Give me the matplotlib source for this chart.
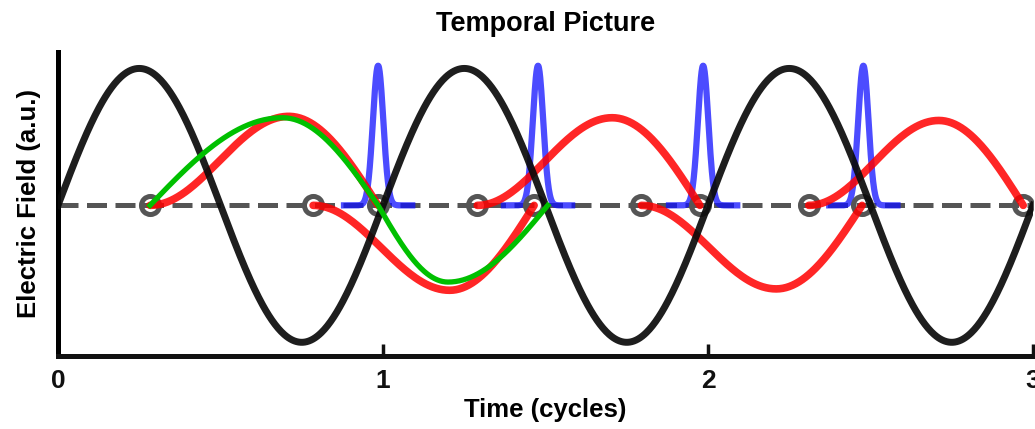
import numpy as np
import matplotlib
matplotlib.use('Agg')
import matplotlib.pyplot as plt

plt.rcParams['font.family'] = ['Liberation Sans', 'DejaVu Sans']
plt.rcParams['font.weight'] = 'bold'

# laser field: zeros and extrema (a.u.)
field_t = [0, 0.25, 0.5, 0.75, 1.0, 1.25, 1.5, 1.75, 2.0, 2.25, 2.5, 2.75, 3.0]
field_v = [0, 1, 0, -1, 0, 1, 0, -1, 0, 1, 0, -1, 0]

# electron trajectories: ionization, turning point, return
ion_t = [0.283, 0.785, 1.29, 1.795, 2.31]
turn_t = [0.71, 1.205, 1.705, 2.21, 2.71]
turn_v = [0.65, -0.62, 0.64, -0.61, 0.62]
ret_t = [0.985, 1.465, 1.975, 2.474, 2.97]

# green trajectory
green_t = [0.283, 0.69, 0.985, 1.2, 1.507]
green_v = [0, 0.64, 0, -0.56, 0]

# attosecond bursts
burst_t = [0.985, 1.477, 1.985, 2.478]
burst_h = 1.02
burst_sig = 0.016
burst_half = 0.105


def smooth(tk, yk, flat, n=80):
    # quarter/half cosine pieces between the read key points
    ts, ys = [], []
    for i in range(len(tk) - 1):
        s = np.linspace(0, 1, n)
        if flat[i] and flat[i + 1]:
            w = (1 - np.cos(np.pi * s)) / 2
        elif flat[i]:
            w = 1 - np.cos(np.pi * s / 2)
        elif flat[i + 1]:
            w = np.sin(np.pi * s / 2)
        else:
            w = s
        ts.append(tk[i] + (tk[i + 1] - tk[i]) * s)
        ys.append(yk[i] + (yk[i + 1] - yk[i]) * w)
    return np.concatenate(ts), np.concatenate(ys)


fig = plt.figure(figsize=(10.35, 4.29), dpi=100)
ax = fig.add_axes([58 / 1035, 1 - 356 / 429, (1033 - 58) / 1035, (356 - 52) / 429])

# zero line
ax.plot([0, 3], [0, 0], color='#555555', lw=3.6, dashes=(4.0, 1.7), zorder=1)

# bursts
for c in burst_t:
    tb = np.linspace(c - burst_half, c + burst_half, 200)
    ax.plot(tb, burst_h * np.exp(-(tb - c) ** 2 / (2 * burst_sig ** 2)),
            color='#1010ff', alpha=0.75, lw=4.5, zorder=2)

# circles
ax.plot(ion_t + ret_t, [0] * (len(ion_t) + len(ret_t)), 'o', ms=13,
        mfc='none', mec='#555555', mew=3.6, zorder=3)

# trajectories
for a, b, v, c in zip(ion_t, turn_t, turn_v, ret_t):
    t, y = smooth([a, b, c], [0, v, 0], [True, True, False])
    ax.plot(t, y, color='#ff0000', alpha=0.85, lw=5.5, solid_capstyle='round', zorder=4)

# field
t, y = smooth(field_t, field_v, [v != 0 for v in field_v])
ax.plot(t, y, color='#0a0a0a', alpha=0.92, lw=5, zorder=5)

t, y = smooth(green_t, green_v, [v != 0 for v in green_v])
ax.plot(t, y, color='#00c000', lw=3.8, zorder=6)

ax.set_xlim(0, 3)
ax.set_ylim(-1.10, 1.12)
ax.set_xticks([0, 1, 2, 3])
ax.set_yticks([])
ax.tick_params(axis='x', direction='in', length=9, width=2.5, pad=9,
               labelsize=19, colors='#111111')
ax.spines['top'].set_visible(False)
ax.spines['right'].set_visible(False)
ax.spines['left'].set_linewidth(3.6)
ax.spines['bottom'].set_linewidth(3.6)
ax.spines['left'].set_color('#000000')
ax.spines['bottom'].set_color('#111111')

ax.set_title('Temporal Picture', fontsize=19.5, fontweight='bold', pad=15)
ax.set_xlabel('Time (cycles)', fontsize=18.5, fontweight='bold', labelpad=4)
ax.set_ylabel('Electric Field (a.u.)', fontsize=18.5, fontweight='bold')
ax.yaxis.set_label_coords(-0.017, 0.5)

fig.savefig('out.png', dpi=100)
